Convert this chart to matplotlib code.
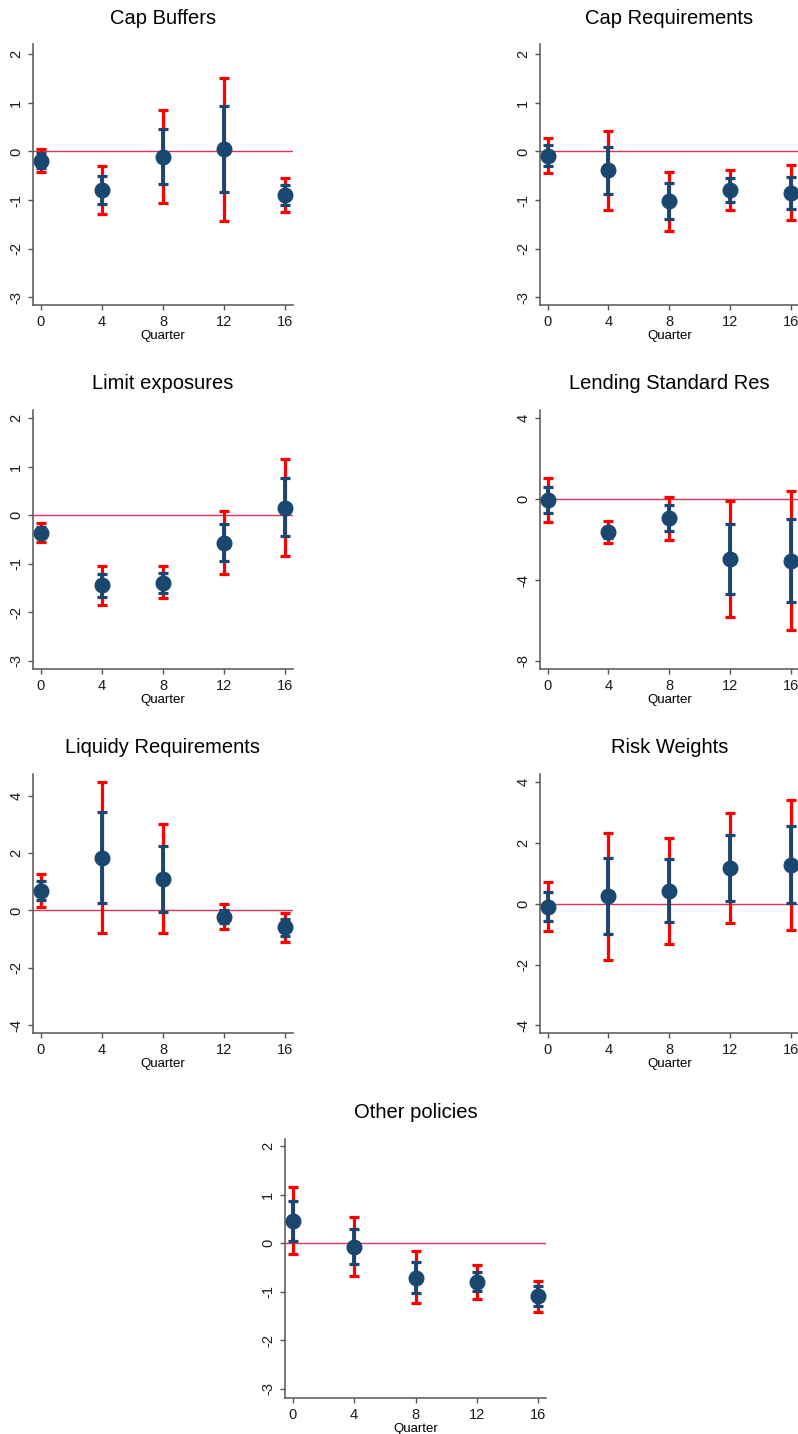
import numpy as np
import matplotlib
matplotlib.use('Agg')
import matplotlib.pyplot as plt

plt.rcParams['font.family'] = ['Liberation Sans', 'DejaVu Sans']

quarters = [0, 4, 8, 12, 16]

titles = ['Cap Buffers', 'Cap Requirements', 'Limit exposures',
          'Lending Standard Res', 'Liquidy Requirements', 'Risk Weights',
          'Other policies']

# point estimates
coef_capbuf = [-0.20, -0.795, -0.11, 0.04, -0.90]
coef_capreq = [-0.09, -0.39, -1.03, -0.79, -0.86]
coef_limexp = [-0.36, -1.43, -1.385, -0.56, 0.16]
coef_lendst = [-0.02, -1.64, -0.94, -2.96, -3.04]
coef_liquid = [0.69, 1.84, 1.11, -0.23, -0.59]
coef_riskwt = [-0.10, 0.24, 0.42, 1.18, 1.28]
coef_other = [0.455, -0.07, -0.71, -0.80, -1.09]

# inner band (lo, hi)
in_lo_capbuf = [-0.35, -1.08, -0.68, -0.84, -1.10]
in_hi_capbuf = [-0.03, -0.50, 0.466, 0.925, -0.70]
in_lo_capreq = [-0.30, -0.88, -1.39, -1.05, -1.19]
in_hi_capreq = [0.13, 0.096, -0.66, -0.54, -0.52]
in_lo_limexp = [-0.46, -1.69, -1.59, -0.95, -0.43]
in_hi_limexp = [-0.25, -1.21, -1.19, -0.18, 0.76]
in_lo_lendst = [-0.68, -1.90, -1.55, -4.67, -5.11]
in_hi_lendst = [0.59, -1.36, -0.30, -1.24, -0.98]
in_lo_liquid = [0.35, 0.27, -0.04, -0.45, -0.88]
in_hi_liquid = [1.03, 3.42, 2.25, 0.00, -0.29]
in_lo_riskwt = [-0.58, -1.01, -0.61, 0.09, 0.01]
in_hi_riskwt = [0.38, 1.50, 1.46, 2.26, 2.55]
in_lo_other = [0.04, -0.42, -1.03, -0.99, -1.30]
in_hi_other = [0.88, 0.29, -0.39, -0.59, -0.885]

# outer band (lo, hi)
out_lo_capbuf = [-0.43, -1.28, -1.07, -1.44, -1.25]
out_hi_capbuf = [0.048, -0.295, 0.85, 1.52, -0.555]
out_lo_capreq = [-0.44, -1.21, -1.63, -1.21, -1.42]
out_hi_capreq = [0.27, 0.425, -0.43, -0.38, -0.28]
out_lo_limexp = [-0.54, -1.85, -1.71, -1.21, -0.84]
out_hi_limexp = [-0.16, -1.04, -1.05, 0.09, 1.16]
out_lo_lendst = [-1.11, -2.16, -2.00, -5.81, -6.48]
out_hi_lendst = [1.03, -1.08, 0.11, -0.07, 0.41]
out_lo_liquid = [0.13, -0.77, -0.77, -0.66, -1.09]
out_hi_liquid = [1.26, 4.46, 3.00, 0.21, -0.08]
out_lo_riskwt = [-0.90, -1.84, -1.32, -0.64, -0.85]
out_hi_riskwt = [0.71, 2.32, 2.16, 2.98, 3.40]
out_lo_other = [-0.23, -0.665, -1.24, -1.14, -1.42]
out_hi_other = [1.155, 0.54, -0.16, -0.445, -0.77]

yticks = [[2, 1, 0, -1, -2, -3], [2, 1, 0, -1, -2, -3], [2, 1, 0, -1, -2, -3],
          [4, 0, -4, -8], [4, 2, 0, -2, -4], [4, 2, 0, -2, -4],
          [2, 1, 0, -1, -2, -3]]
ylims = [(-3.16, 2.2), (-3.16, 2.2), (-3.165, 2.17), (-8.4, 4.41),
         (-4.27, 4.75), (-4.25, 4.26), (-3.19, 2.15)]

coefs = [coef_capbuf, coef_capreq, coef_limexp, coef_lendst, coef_liquid,
         coef_riskwt, coef_other]
inner = [(in_lo_capbuf, in_hi_capbuf), (in_lo_capreq, in_hi_capreq),
         (in_lo_limexp, in_hi_limexp), (in_lo_lendst, in_hi_lendst),
         (in_lo_liquid, in_hi_liquid), (in_lo_riskwt, in_hi_riskwt),
         (in_lo_other, in_hi_other)]
outer = [(out_lo_capbuf, out_hi_capbuf), (out_lo_capreq, out_hi_capreq),
         (out_lo_limexp, out_hi_limexp), (out_lo_lendst, out_hi_lendst),
         (out_lo_liquid, out_hi_liquid), (out_lo_riskwt, out_hi_riskwt),
         (out_lo_other, out_hi_other)]

W, H = 798, 1434
# axes boxes in pixels: left, right, top, bottom
boxes = [(33, 293, 44.5, 305), (540, 798.6, 44.5, 305),
         (33, 293, 410, 669), (540, 798.6, 410, 669),
         (33, 293, 774, 1033), (540, 798.6, 774, 1033),
         (285, 546, 1139, 1398)]

NAVY = '#1a476f'
RED = '#ff0000'

fig = plt.figure(figsize=(W / 100, H / 100), dpi=100)

for i in range(7):
    l, r, t, b = boxes[i]
    ax = fig.add_axes([l / W, 1 - b / H, (r - l) / W, (b - t) / H])
    pt = np.array(coefs[i])
    ilo, ihi = np.array(inner[i][0]), np.array(inner[i][1])
    olo, ohi = np.array(outer[i][0]), np.array(outer[i][1])

    ax.axhline(0, color='#d9365e', lw=1.0, zorder=1)
    ax.errorbar(quarters, pt, yerr=[pt - olo, ohi - pt], fmt='none',
                ecolor=RED, elinewidth=2.3, capsize=3.4, capthick=2.3, zorder=2)
    ax.errorbar(quarters, pt, yerr=[pt - ilo, ihi - pt], fmt='none',
                ecolor=NAVY, elinewidth=2.8, capsize=3.6, capthick=2.3, zorder=3)
    ax.plot(quarters, pt, 'o', color=NAVY, ms=10.5, zorder=4)

    ax.set_xlim(-0.5, 16.5)
    ax.set_ylim(*ylims[i])
    ax.set_xticks(quarters)
    ax.set_yticks(yticks[i])
    ax.set_yticklabels([str(v) for v in yticks[i]], rotation=90, va='center')
    ax.set_xlabel('Quarter', fontsize=9.5, labelpad=1)
    ax.set_title(titles[i], fontsize=14.5, pad=15)

    for s in ['top', 'right']:
        ax.spines[s].set_visible(False)
    for s in ['left', 'bottom']:
        ax.spines[s].set_color('#555555')
        ax.spines[s].set_linewidth(1.1)
    ax.tick_params(axis='both', length=3.5, width=1.0, color='#555555',
                   labelsize=10.5, labelcolor='#1a1a1a')
    ax.tick_params(axis='y', pad=3.5)
    ax.tick_params(axis='x', pad=3.5)

fig.savefig('out.png', dpi=100)
